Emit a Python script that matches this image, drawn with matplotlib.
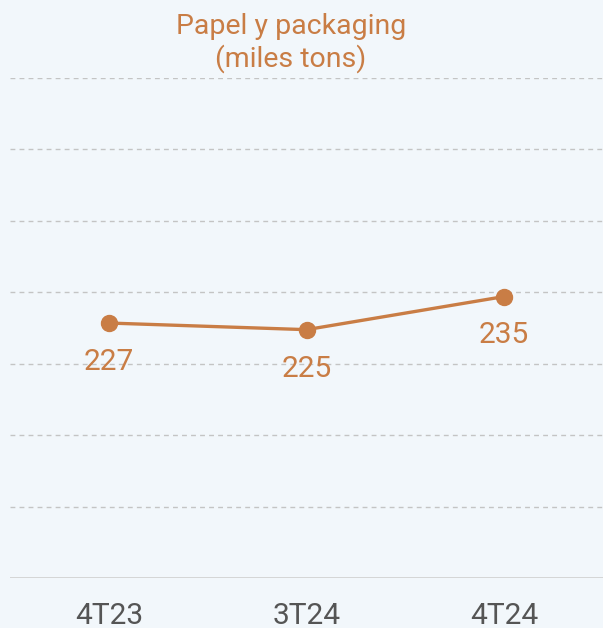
import matplotlib.pyplot as plt

# ==============================
# DATA
# ==============================

periods = ["4T23", "3T24", "4T24"]
values = [227, 225, 235]
title = "Papel y packaging\n(miles tons)"

ORANGE = "#c97d45"
BG = "#f2f7fb"

plt.rcParams["font.family"] = ["Roboto", "DejaVu Sans"]

fig = plt.figure(figsize=(6.03, 6.28), dpi=100, facecolor=BG)
ax = fig.add_axes([10 / 603, 50 / 628, 593 / 603, 500 / 628], facecolor=BG)

x = range(len(periods))
ax.plot(x, values, color=ORANGE, linewidth=2.4, marker="o",
        markersize=11.5, zorder=3)

for xi, v in zip(x, values):
    ax.annotate(str(v), (xi, v), xytext=(0, -28), textcoords="offset points",
                ha="center", va="center", fontsize=21.5, color=ORANGE)

ax.set_xlim(-0.5, 2.5)
ax.set_ylim(150, 301)
grid = [150 + k * 151 / 7 for k in range(1, 8)]
for g in grid:
    ax.axhline(g, color="#c4c4c4", linewidth=1, linestyle=(0, (3.5, 3)), zorder=1)
ax.axhline(150, color="#d2d2d2", linewidth=2, zorder=1)

ax.set_xticks(list(x))
ax.set_xticklabels(periods, fontsize=21.5, color="#555555")
ax.tick_params(axis="x", length=0, pad=17)
ax.set_yticks([])
for s in ax.spines.values():
    s.set_visible(False)

fig.text(291 / 603, 1 - 43 / 628, title, ha="center", va="center",
         fontsize=20.5, color=ORANGE, linespacing=1.15)

fig.savefig("out.png", dpi=100, facecolor=BG)
